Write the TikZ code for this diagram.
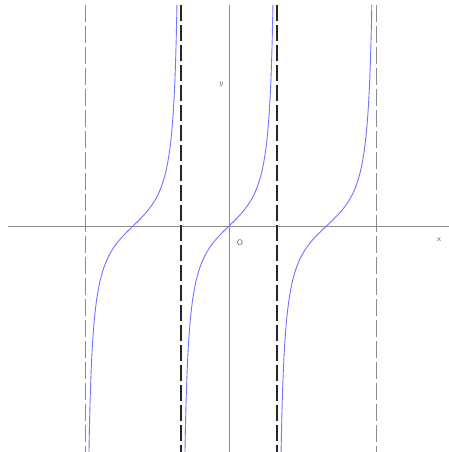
\documentclass[tikz,border=0pt]{standalone}
\begin{document}
\begin{tikzpicture}[x=1pt,y=-1pt,
  axisline/.style={draw=black!45,line width=1pt},
  outerasym/.style={draw=black!45,line width=1pt,dash pattern=on 17pt off 4pt},
  innerasym/.style={draw=black!85,line width=1.4pt,dash pattern=on 16pt off 4pt},
  curve/.style={draw=blue!55,line width=0.9pt},
  lbl/.style={text=black!65,inner sep=0pt}]
\useasboundingbox[fill=white] (0,0) rectangle (449,452);
% axes
\coordinate (xl) at (8,226);
\coordinate (xr) at (449,226);
\coordinate (yt) at (229,5);
\coordinate (yb) at (229,452);
\draw[axisline] (xl) -- (xr);
\draw[axisline] (yt) -- (yb);
% asymptotes
\foreach \a/\s in {85/outerasym,181/innerasym,277/innerasym,376/outerasym}{
  \coordinate (at\a) at (\a,5);
  \coordinate (ab\a) at (\a,452);
  \draw[\s] (at\a) -- (ab\a);
}
% tangent branches
\foreach \c/\p in {133/96,229/96,326.5/99}{
  \draw[curve] plot[domain=-82.6:82.4,samples=240,variable=\t]
    ({\c+\t/180*\p},{226-29.5*tan(\t)});
}
% labels
\node[lbl,font=\fontsize{8}{9}\selectfont\itshape] (ylab) at (221,85) {y};
\node[lbl,font=\fontsize{8}{9}\selectfont\sffamily] (olab) at (240,243) {O};
\node[lbl,font=\fontsize{8}{9}\selectfont\sffamily] (xlab) at (439,240) {x};
\end{tikzpicture}
\end{document}
